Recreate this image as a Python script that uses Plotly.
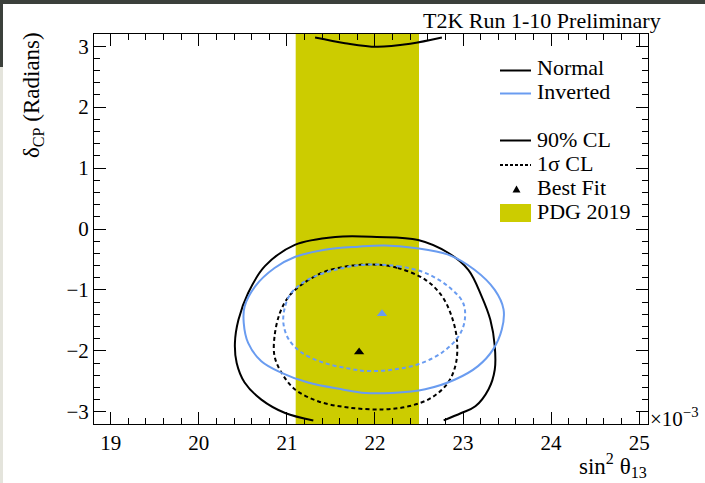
import plotly.graph_objects as go

# Normal ordering, 90% CL: lower region (open curve, clipped at -pi) and upper sliver near +pi
no90_low_x = [21.30, 20.98, 20.71, 20.52, 20.43, 20.41, 20.45, 20.56, 20.75, 21.09, 21.55,
              22.02, 22.49, 22.83, 23.06, 23.21, 23.31, 23.36, 23.36, 23.29, 23.14, 22.98, 22.78]
no90_low_y = [-3.1416, -3.02, -2.80, -2.52, -2.20, -1.87, -1.49, -1.05, -0.61, -0.26, -0.13,
              -0.13, -0.18, -0.39, -0.67, -1.10, -1.49, -1.92, -2.31, -2.63, -2.91, -3.02, -3.1416]
no90_top_x = [21.32, 21.66, 22.02, 22.40, 22.76]
no90_top_y = [3.1416, 3.05, 2.99, 3.04, 3.1416]

# Normal ordering, 1 sigma
no1s_x = [22.02, 22.26, 22.57, 22.76, 22.87, 22.93, 22.92, 22.83, 22.64, 22.38, 22.09,
          21.70, 21.36, 21.09, 20.94, 20.86, 20.86, 20.92, 21.02, 21.17, 21.43, 21.74, 22.02]
no1s_y = [-0.585, -0.64, -0.83, -1.10, -1.43, -1.81, -2.20, -2.52, -2.77, -2.91, -2.96,
          -2.93, -2.83, -2.63, -2.36, -2.09, -1.76, -1.38, -1.11, -0.91, -0.70, -0.60, -0.585]

# Inverted ordering, 90% CL
io90_x = [22.11, 22.45, 22.83, 23.13, 23.36, 23.46, 23.44, 23.34, 23.17, 22.91, 22.57, 22.19,
          21.89, 21.62, 21.24, 20.94, 20.71, 20.56, 20.51, 20.52, 20.64, 20.86, 21.09, 21.43,
          21.81, 22.11]
io90_y = [-0.27, -0.31, -0.42, -0.67, -1.00, -1.32, -1.65, -1.98, -2.25, -2.47, -2.63, -2.69,
          -2.69, -2.63, -2.52, -2.36, -2.17, -1.87, -1.54, -1.27, -0.94, -0.64, -0.46, -0.34,
          -0.29, -0.27]

# Inverted ordering, 1 sigma
io1s_x = [21.89, 22.26, 22.57, 22.83, 23.00, 23.02, 22.95, 22.76, 22.49, 22.19, 21.89,
          21.74, 21.43, 21.17, 21.02, 20.96, 20.98, 21.05, 21.24, 21.55, 21.89]
io1s_y = [-0.585, -0.61, -0.72, -0.94, -1.21, -1.49, -1.76, -2.03, -2.22, -2.31, -2.33,
          -2.30, -2.20, -2.03, -1.81, -1.54, -1.27, -1.05, -0.83, -0.67, -0.585]

# Best-fit points (sin^2 theta13 x 1e3, delta_CP)
bf_normal = (21.82, -2.02)
bf_inverted = (22.08, -1.39)

# PDG 2019 sin^2 theta13 band (x 1e3)
pdg_lo, pdg_hi = 21.1, 22.5

x_range = [18.81, 25.10]
y_range = [-3.2, 3.2]
x_ticks = [19, 20, 21, 22, 23, 24, 25]
y_ticks = [-3, -2, -1, 0, 1, 2, 3]

legend_labels = ["Normal", "Inverted", "90% CL", "1σ CL", "Best Fit", "PDG 2019"]

BLACK = "#000000"
BLUE = "#6a9cf0"
OLIVE = "#cccc00"
FONT = "Liberation Serif"

W, H = 705, 483
ML, MR, MT, MB = 94, 57, 34, 59
PW, PH = W - ML - MR, H - MT - MB


def px_x(p):
    return (p - ML) / PW


def px_y(p):
    return (H - MB - p) / PH


fig = go.Figure()

# PDG band
fig.add_trace(go.Scatter(
    x=[pdg_lo, pdg_hi, pdg_hi, pdg_lo, pdg_lo],
    y=[y_range[0], y_range[0], y_range[1], y_range[1], y_range[0]],
    mode="lines", fill="toself", fillcolor=OLIVE, line=dict(width=0, color=OLIVE),
    showlegend=False, hoverinfo="skip"))

common = dict(mode="lines", showlegend=False, line_shape="spline", hoverinfo="skip")
fig.add_trace(go.Scatter(x=no90_low_x, y=no90_low_y, line=dict(color=BLACK, width=2), **common))
fig.add_trace(go.Scatter(x=no90_top_x, y=no90_top_y, line=dict(color=BLACK, width=2), **common))
fig.add_trace(go.Scatter(x=no1s_x, y=no1s_y, line=dict(color=BLACK, width=2, dash="4px,3px"), **common))
fig.add_trace(go.Scatter(x=io90_x, y=io90_y, line=dict(color=BLUE, width=2), **common))
fig.add_trace(go.Scatter(x=io1s_x, y=io1s_y, line=dict(color=BLUE, width=2, dash="4px,3px"), **common))

fig.add_trace(go.Scatter(x=[bf_normal[0]], y=[bf_normal[1]], mode="markers", showlegend=False,
                         marker=dict(symbol="triangle-up", size=9, color=BLACK)))
fig.add_trace(go.Scatter(x=[bf_inverted[0]], y=[bf_inverted[1]], mode="markers", showlegend=False,
                         marker=dict(symbol="triangle-up", size=9, color=BLUE)))

axis_common = dict(
    showgrid=False, zeroline=False, showline=True, linecolor=BLACK, linewidth=1,
    mirror="allticks", ticks="inside", ticklen=12, tickwidth=1, tickcolor=BLACK,
    minor=dict(ticks="inside", ticklen=6, tickwidth=1, tickcolor=BLACK, dtick=0.2),
    tickfont=dict(family=FONT, size=21, color=BLACK),
)

fig.update_xaxes(range=x_range, tickvals=x_ticks, **axis_common)
fig.update_yaxes(range=y_range, tickvals=y_ticks, **axis_common)

# Legend box drawn in paper space
LEG_KEY_X0, LEG_KEY_X1, LEG_TEXT_X = 500, 531, 535
legend_rows = [67, 91, 139.5, 163, 187, 211.5]
legend_key_y = [70.5, 93.5, 140.5, 165, 189, 213]

annotations = [
    dict(text="T2K Run 1-10 Preliminary", xref="paper", yref="paper",
         x=px_x(663), y=px_y(21), xanchor="right", yanchor="middle", showarrow=False,
         font=dict(family=FONT, size=22)),
    dict(text="δ<sub>CP</sub> (Radians)", xref="paper", yref="paper", textangle=-90,
         x=px_x(33), y=px_y(30), xanchor="center", yanchor="top", showarrow=False,
         font=dict(family=FONT, size=23)),
    dict(text="sin<sup>2</sup> θ<sub>13</sub>", xref="paper", yref="paper",
         x=px_x(649), y=px_y(465), xanchor="right", yanchor="middle", showarrow=False,
         font=dict(family=FONT, size=23)),
    dict(text="×10<sup>−3</sup>", xref="paper", yref="paper",
         x=px_x(648), y=px_y(417), xanchor="left", yanchor="middle", showarrow=False,
         font=dict(family=FONT, size=21)),
]
for label, ry in zip(legend_labels, legend_rows):
    annotations.append(dict(text=label, xref="paper", yref="paper", x=px_x(LEG_TEXT_X), y=px_y(ry),
                            xanchor="left", yanchor="middle", showarrow=False,
                            font=dict(family=FONT, size=22)))

key_styles = [(BLACK, "solid"), (BLUE, "solid"), (BLACK, "solid"), (BLACK, "3px,2px")]
shapes = []
for (col, dash), ky in zip(key_styles, legend_key_y[:4]):
    shapes.append(dict(type="line", xref="paper", yref="paper",
                       x0=px_x(LEG_KEY_X0), x1=px_x(LEG_KEY_X1), y0=px_y(ky), y1=px_y(ky),
                       line=dict(color=col, width=2, dash=dash)))
# Best-fit key triangle
tx, ty = 516.5, legend_key_y[4]
shapes.append(dict(type="path", xref="paper", yref="paper",
                   path=f"M {px_x(tx - 4)} {px_y(ty + 3.5)} L {px_x(tx + 4)} {px_y(ty + 3.5)} "
                        f"L {px_x(tx)} {px_y(ty - 3.5)} Z",
                   fillcolor=BLACK, line=dict(width=0)))
# PDG key box
shapes.append(dict(type="rect", xref="paper", yref="paper",
                   x0=px_x(LEG_KEY_X0), x1=px_x(LEG_KEY_X1),
                   y0=px_y(legend_key_y[5] - 9), y1=px_y(legend_key_y[5] + 9),
                   fillcolor=OLIVE, line=dict(width=0)))
# Slide border strips
shapes += [
    dict(type="rect", xref="paper", yref="paper", x0=px_x(0), x1=px_x(W), y0=px_y(0), y1=px_y(4),
         fillcolor="#3b403b", line=dict(width=0), layer="above"),
    dict(type="rect", xref="paper", yref="paper", x0=px_x(0), x1=px_x(3), y0=px_y(0), y1=px_y(67),
         fillcolor="#3b403b", line=dict(width=0), layer="above"),
    dict(type="rect", xref="paper", yref="paper", x0=px_x(0), x1=px_x(3), y0=px_y(67), y1=px_y(H),
         fillcolor="#e4e4dc", line=dict(width=0), layer="above"),
]

fig.update_layout(
    width=W, height=H, margin=dict(l=ML, r=MR, t=MT, b=MB),
    paper_bgcolor="white", plot_bgcolor="white",
    font=dict(family=FONT, color=BLACK),
    showlegend=False,
    annotations=annotations,
    shapes=shapes,
)

fig.write_html("out.html")
